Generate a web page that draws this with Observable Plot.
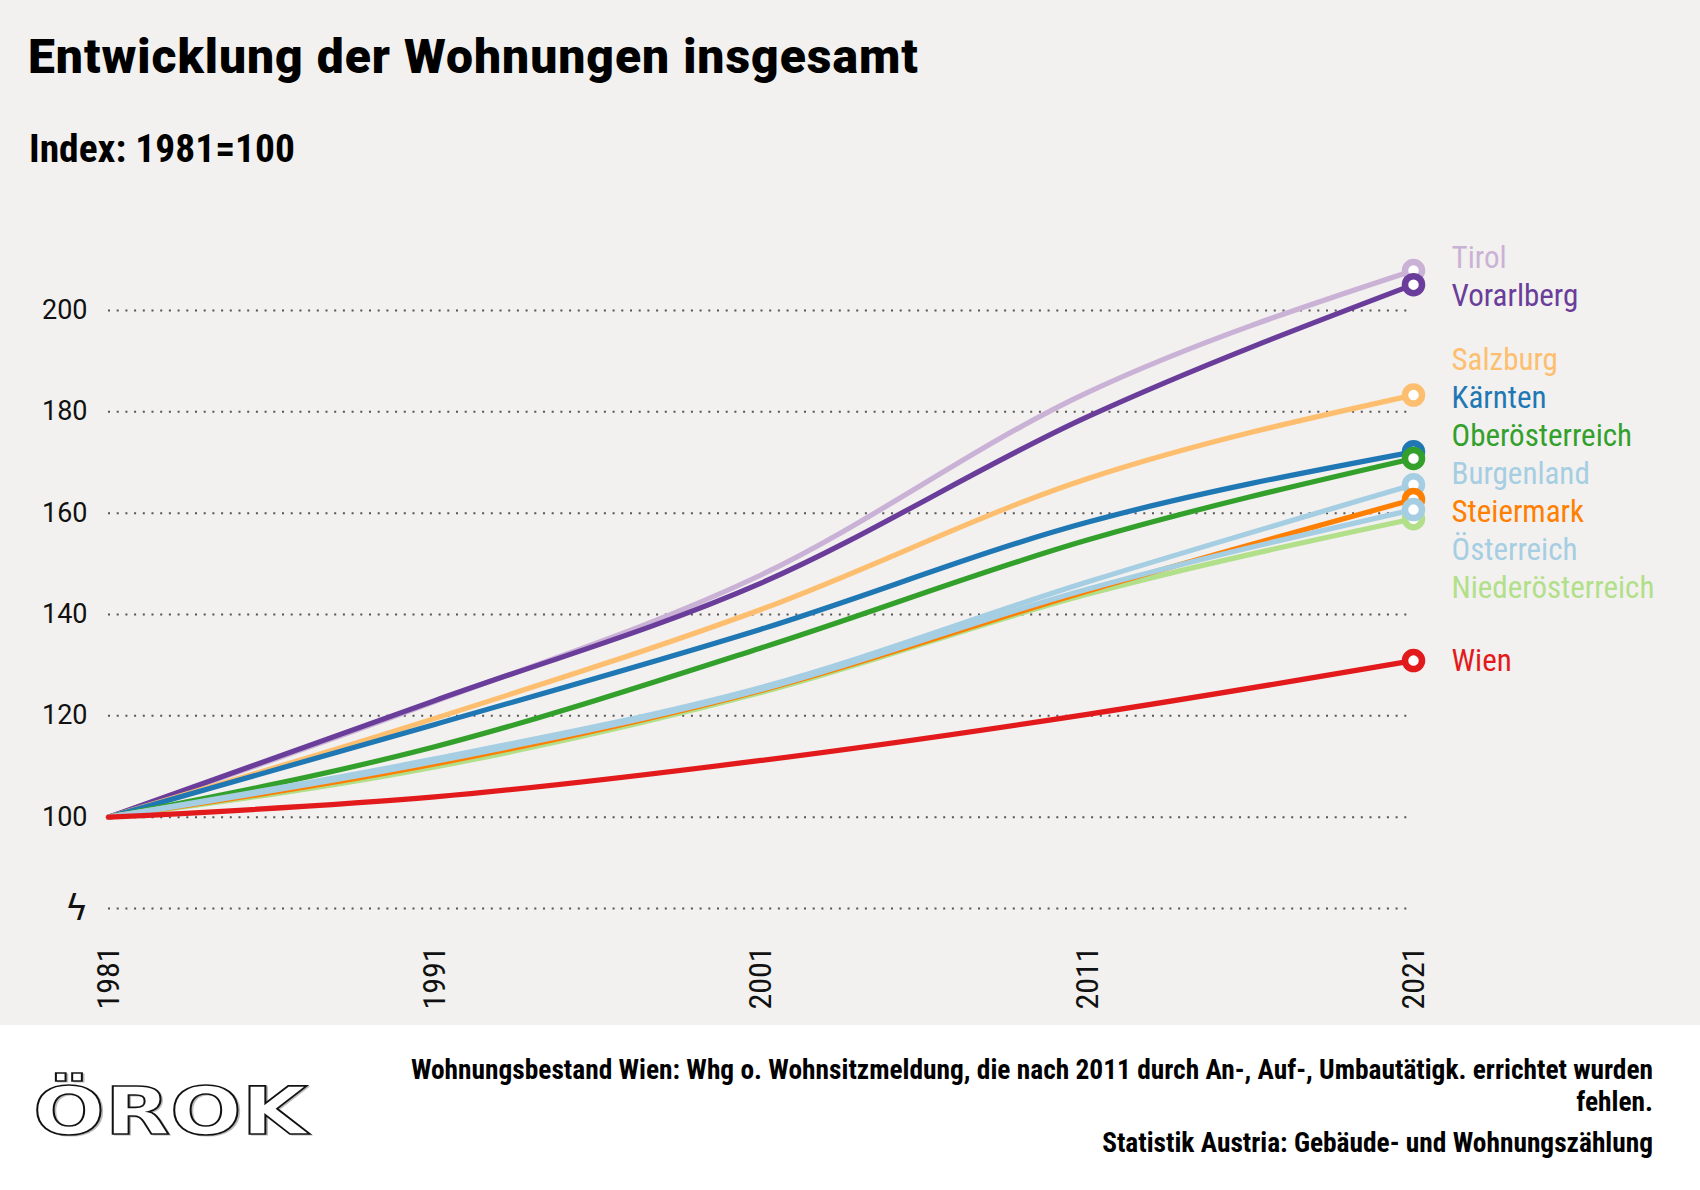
<!DOCTYPE html>
<html lang="de">
<head>
<meta charset="utf-8">
<title>Entwicklung der Wohnungen insgesamt</title>
<script src="https://cdn.jsdelivr.net/npm/d3@7"></script>
<script src="https://cdn.jsdelivr.net/npm/@observablehq/plot@0.6"></script>
<style>
  html, body { margin: 0; padding: 0; background: #ffffff; }
  #page { position: relative; width: 1700px; height: 1190px; overflow: hidden; }
  #panel { position: absolute; left: 0; top: 0; width: 1700px; height: 1025px; background: #f2f1ef; }
  .cond { font-family: "Roboto Condensed", "Liberation Sans Narrow", Roboto, sans-serif; }
  #title { position: absolute; left: 28px; top: 33px; font-family: Roboto, sans-serif; font-size: 48px; line-height: 48px; font-weight: 900; letter-spacing: 1px; color: #000; white-space: nowrap; }
  #subtitle { position: absolute; left: 29px; top: 129px; font-size: 39.5px; line-height: 39.5px; font-weight: 700; color: #000; white-space: nowrap; }
  #chart { position: absolute; left: 0; top: 180px; }
  .note { position: absolute; right: 47px; font-size: 27.4px; line-height: 34px; font-weight: 700; color: #000; white-space: nowrap; text-align: right; }
  #logo { position: absolute; left: 28px; top: 1040px; }
</style>
</head>
<body>
<div id="page">
  <div id="panel">
    <div id="title">Entwicklung der Wohnungen insgesamt</div>
    <div id="subtitle" class="cond">Index: 1981=100</div>
    <div id="chart"></div>
  </div>
  <svg id="logo" width="320" height="115">
    <text x="4" y="94" transform="scale(1.28,1)" font-family="DejaVu Sans" font-weight="bold" font-size="66" fill="#bbbbbb" stroke="#bbbbbb" stroke-width="1" dx="1.5" dy="1.5">ÖROK</text>
    <text x="4" y="94" transform="scale(1.28,1)" font-family="DejaVu Sans" font-weight="bold" font-size="66" fill="#ffffff" stroke="#111111" stroke-width="1.6">ÖROK</text>
  </svg>
  <div class="note cond" style="top:1053px">Wohnungsbestand Wien: Whg o. Wohnsitzmeldung, die nach 2011 durch An-, Auf-, Umbautätigk. errichtet wurden</div>
  <div class="note cond" style="top:1085px">fehlen.</div>
  <div class="note cond" style="top:1126px">Statistik Austria: Gebäude- und Wohnungszählung</div>
</div>
<script>
// Census years and index values (1981 = 100) per region
const years = [1981, 1991, 2001, 2011, 2021];

const tirol             = [100, 122.8, 147.8, 183.8, 207.9];
const vorarlberg        = [100, 123.0, 146.2, 179.0, 205.1];
const salzburg          = [100, 119.5, 141.0, 166.8, 183.3];
const kaernten          = [100, 118.3, 137.1, 158.2, 172.1];
const oberoesterreich   = [100, 113.9, 133.4, 154.7, 170.8];
const burgenland        = [100, 111.5, 125.6, 146.4, 165.6];
const steiermark        = [100, 110.5, 125.0, 144.6, 162.7];
const oesterreich       = [100, 111.0, 125.2, 145.0, 160.7];
const niederoesterreich = [100, 109.9, 124.6, 144.0, 158.9];
const wien              = [100, 104.0, 111.2, 120.3, 130.9];

const regions = ["Tirol", "Vorarlberg", "Salzburg", "Kärnten", "Oberösterreich",
                 "Burgenland", "Steiermark", "Österreich", "Niederösterreich", "Wien"];
const series = [tirol, vorarlberg, salzburg, kaernten, oberoesterreich,
                burgenland, steiermark, oesterreich, niederoesterreich, wien];
const colors = ["#cab2d6", "#6a3d9a", "#fdbf6f", "#1f78b4", "#33a02c",
                "#a6cee3", "#ff7f00", "#a6cee3", "#b2df8a", "#e31a1c"];

// stacking order of the lines (later ones are drawn on top)
const drawOrder = ["Tirol", "Vorarlberg", "Salzburg", "Kärnten", "Oberösterreich",
                   "Burgenland", "Niederösterreich", "Steiermark", "Österreich", "Wien"];

const yTicks = [100, 120, 140, 160, 180, 200];
const yBreak = 82;

const rows = drawOrder.flatMap(region => {
  const values = series[regions.indexOf(region)];
  return years.map((year, i) => ({region, year, value: values[i]}));
});
const lastRows = drawOrder.map(region => ({
  region, year: years[years.length - 1], value: series[regions.indexOf(region)][years.length - 1]
}));

// Spread end labels so they never overlap: clusters of colliding labels
// are centred on the mean of their values with a fixed spacing.
function spreadLabels(items, gap) {
  const sorted = items.slice().sort((a, b) => b.value - a.value);
  const clusters = [];
  for (const it of sorted) {
    clusters.push({members: [it], sum: it.value});
    while (clusters.length > 1) {
      const b = clusters[clusters.length - 1], a = clusters[clusters.length - 2];
      const aBottom = a.sum / a.members.length - (a.members.length - 1) * gap / 2;
      const bTop = b.sum / b.members.length + (b.members.length - 1) * gap / 2;
      if (aBottom - bTop < gap) {
        a.members.push(...b.members);
        a.sum += b.sum;
        clusters.pop();
      } else break;
    }
  }
  const out = [];
  for (const c of clusters) {
    const top = c.sum / c.members.length + (c.members.length - 1) * gap / 2;
    c.members.forEach((m, i) => out.push({...m, labelY: top - i * gap}));
  }
  return out;
}
const labelRows = spreadLabels(lastRows, 7.5);

const cond = "'Roboto Condensed', 'Liberation Sans Narrow', Roboto, sans-serif";

const chart = Plot.plot({
  width: 1700,
  height: 845,
  marginLeft: 108,
  marginRight: 287,
  marginTop: 79.3,
  marginBottom: 117.1,
  style: {background: "transparent", color: "#111", overflow: "visible"},
  x: {domain: [1981, 2021]},
  y: {domain: [yBreak, 210]},
  color: {domain: regions, range: colors},
  marks: [
    Plot.ruleY([yBreak, ...yTicks], {
      x1: 1981, x2: 2021, stroke: "#555", strokeWidth: 2, strokeDasharray: "2 6.7"
    }),
    Plot.axisY({
      ticks: yTicks, tickSize: 0, tickPadding: 21, label: null,
      fontSize: 27, fontFamily: "Roboto, sans-serif", fill: "#111"
    }),
    Plot.text([yBreak], {
      x: 1981, y: d => d, text: () => "ϟ", dx: -32,
      fontSize: 36, fontFamily: "DejaVu Sans", fill: "#111"
    }),
    Plot.axisX({
      ticks: years, tickFormat: d => String(d), tickSize: 0, tickPadding: 38,
      tickRotate: -90, label: null, fontSize: 32, fontFamily: cond, fill: "#111"
    }),
    Plot.line(rows, {
      x: "year", y: "value", z: "region", stroke: "region",
      strokeWidth: 5.2, curve: "monotone-x"
    }),
    Plot.dot(lastRows, {
      x: "year", y: "value", r: 8.5, fill: "white", stroke: "region", strokeWidth: 6.5
    }),
    Plot.text(labelRows, {
      x: "year", y: "labelY", text: "region", fill: "region",
      dx: 38, textAnchor: "start", lineAnchor: "middle",
      fontSize: 31, fontFamily: cond
    })
  ]
});

document.getElementById("chart").appendChild(chart);
</script>
</body>
</html>
